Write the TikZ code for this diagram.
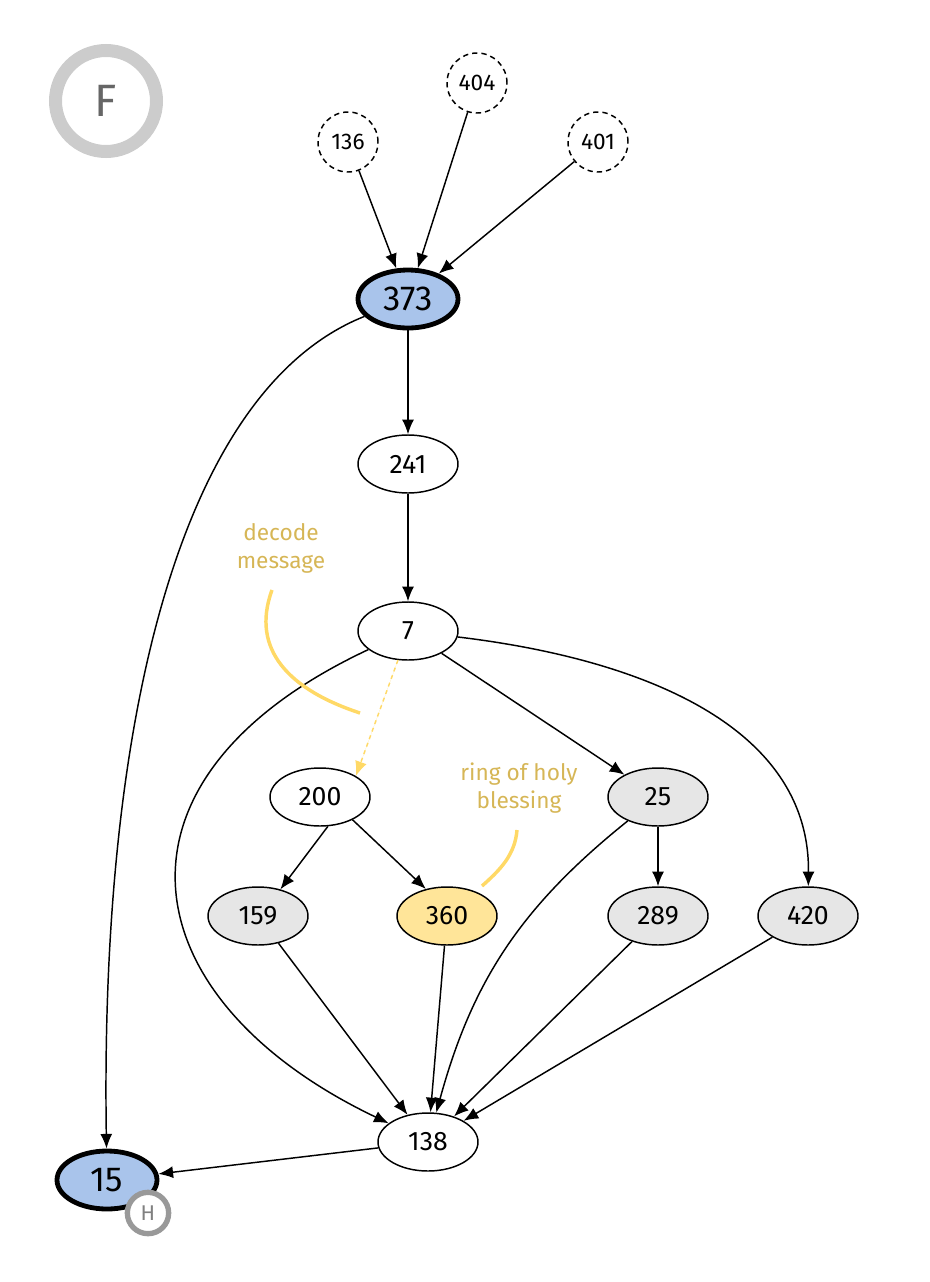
\documentclass[tikz,border=0pt]{standalone}
\usepackage{fontspec}
\setmainfont{Fira Sans}
\usetikzlibrary{shapes.geometric, arrows.meta}

\definecolor{termblue}{HTML}{A9C4EB}
\definecolor{ringyellow}{HTML}{FFE599}
\definecolor{seengray}{HTML}{E6E6E6}
\definecolor{notegold}{HTML}{D6B656}
\definecolor{noteline}{HTML}{FFD966}

\tikzstyle{vertex}=[ellipse, draw, line width=1.1pt, minimum width=75pt, minimum height=43.5pt, inner sep=0pt, font=\fontsize{20}{22}\selectfont]
\tikzstyle{seen}=[vertex, fill=seengray]
\tikzstyle{ring}=[vertex, fill=ringyellow]
\tikzstyle{terminal}=[vertex, fill=termblue, line width=3.6pt, font=\fontsize{26}{28}\selectfont]
\tikzstyle{ghost}=[circle, draw, dashed, dash pattern=on 4pt off 3pt, line width=1.1pt, minimum size=45pt, inner sep=0pt, font=\fontsize{17}{19}\selectfont]
\tikzstyle{dep}=[-{Latex[length=11pt, width=9pt]}, line width=1.1pt]
\tikzstyle{note}=[text=notegold, align=center, font=\fontsize{17}{21}\selectfont]
\tikzstyle{noteline}=[draw=noteline, line width=2.6pt]

\begin{document}
\begin{tikzpicture}[x=0.75pt, y=-0.75pt]
      \useasboundingbox (0,0) rectangle (930,1282);
      % badge
      \node[circle, draw=black!20, line width=9.75pt, minimum size=75.75pt, inner sep=0pt, text=black!60,
        font=\fontsize{34}{36}\selectfont] (badge) at (106,101) {F};
      % predecessors
      \node[ghost] (136) at (348,142) {136};
      \node[ghost] (404) at (477,83) {404};
      \node[ghost] (401) at (598,142) {401};
      % main graph
      \node[terminal] (373) at (408,299) {373};
      \node[vertex] (241) at (408,464) {241};
      \node[vertex] (7) at (408,631) {7};
      \node[vertex] (200) at (320,797) {200};
      \node[seen] (25) at (658,797) {25};
      \node[seen] (159) at (258,916) {159};
      \node[ring] (360) at (447,916) {360};
      \node[seen] (289) at (658,916) {289};
      \node[seen] (420) at (808,916) {420};
      \node[vertex] (138) at (428,1142) {138};
      \node[terminal] (15) at (107,1180) {15};
      \node[circle, draw=black!40, fill=white, line width=4pt, minimum size=31pt, inner sep=0pt,
        text=black!50, font=\fontsize{16}{18}\selectfont] (hero) at (148,1213) {H};

      \foreach \src in {136, 404, 401} {%
        \draw[dep] (\src) to (373);
      }
      \draw[dep] (373) to (241);
      \draw[dep] (241) to (7);
      \draw[dep] (373) .. controls (180,390) and (100,720) .. (15);
      \draw[dep, draw=noteline, fill=noteline, dashed] (7.251) to (200.north east);
      \draw[dep] (7) to (25);
      \draw[dep] (7) .. controls (650,660) and (810,730) .. (420);
      \draw[dep] (7) .. controls (90,780) and (130,1000) .. (138);
      \draw[dep] (200.285) to (159.50);
      \draw[dep] (200.325) to (360.128);
      \draw[dep] (25) to (289);
      \draw[dep, bend right=18] (25) to (138);
      \foreach \src in {159, 360, 289, 420} {%
        \draw[dep] (\src) to (138);
      }
      \draw[dep] (138) to (15);

      % notes
      \node[note] (decode) at (281,548) {decode\\message};
      \draw[noteline] (272,590) .. controls (250,650) and (290,690) .. (360,713);
      \node[note] (blessing) at (519,788) {ring of holy\\blessing};
      \draw[noteline] (517,830) .. controls (515,855) and (500,870) .. (482,886);
    \end{tikzpicture}
\end{document}
